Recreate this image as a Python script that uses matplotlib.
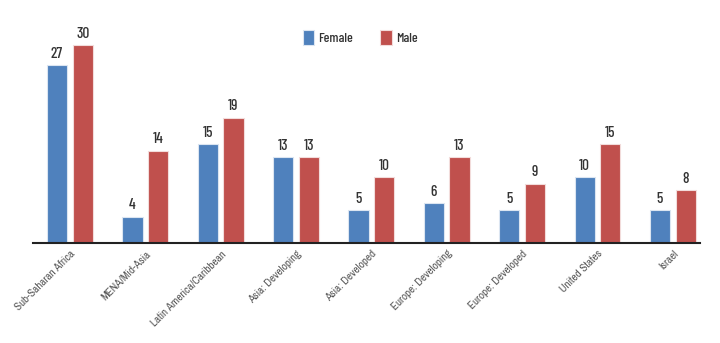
import matplotlib
matplotlib.use("Agg")
import matplotlib.pyplot as plt
import numpy as np

plt.rcParams['font.family'] = ['Barlow Condensed', 'Archivo Narrow', 'DejaVu Sans']

regions = ["Sub-Saharan Africa", "MENA/Mid-Asia", "Latin America/Caribbean",
           "Asia: Developing", "Asia: Developed", "Europe: Developing",
           "Europe: Developed", "United States", "Israel"]
female = [27, 4, 15, 13, 5, 6, 5, 10, 5]
male = [30, 14, 19, 13, 10, 13, 9, 15, 8]

blue = "#4F81BD"
red = "#C0504D"

fig = plt.figure(figsize=(7.2, 3.43), dpi=100)
# axes: left 33px, right 700px, bottom at y=243px, top at y=20px
ax = fig.add_axes([33/720, 1 - 243/343, (700-33)/720, (243-20)/343])

x = np.arange(len(regions))
width = 0.27
gap = 0.035
b1 = ax.bar(x - width/2 - gap, female, width, color=blue, edgecolor="#dbe5f1",
            linewidth=0.8, label="Female")
b2 = ax.bar(x + width/2 + gap, male, width, color=red, edgecolor="#f2dcdb",
            linewidth=0.8, label="Male")

for rects in (b1, b2):
    for r in rects:
        ax.annotate(str(int(r.get_height())),
                    xy=(r.get_x() + r.get_width()/2, r.get_height()),
                    xytext=(0, 3), textcoords="offset points",
                    ha="center", va="bottom", fontsize=11, color="#333333",
                    fontweight="medium")

ax.set_xlim(-0.49, 8.36)
ax.set_ylim(0, 33.8)
ax.set_yticks([])
ax.set_xticks(x)
ax.set_xticklabels(regions, rotation=45, ha="right", rotation_mode="anchor",
                   fontsize=8, color="#555555", family=['Archivo Narrow', 'DejaVu Sans'])
ax.tick_params(axis="x", length=0, pad=4)
for s in ("top", "right", "left"):
    ax.spines[s].set_visible(False)
ax.spines["bottom"].set_color("#222222")
ax.spines["bottom"].set_linewidth(1.5)

leg = ax.legend(loc="upper center", bbox_to_anchor=(360/720, 1 - 17/343),
                bbox_transform=fig.transFigure, ncol=2, frameon=False,
                fontsize=10, handlelength=0.8, handleheight=1.3,
                handletextpad=0.3, columnspacing=2.0)
for t in leg.get_texts():
    t.set_color("#333333")
    t.set_fontweight("medium")

fig.savefig("out.png", dpi=100)
